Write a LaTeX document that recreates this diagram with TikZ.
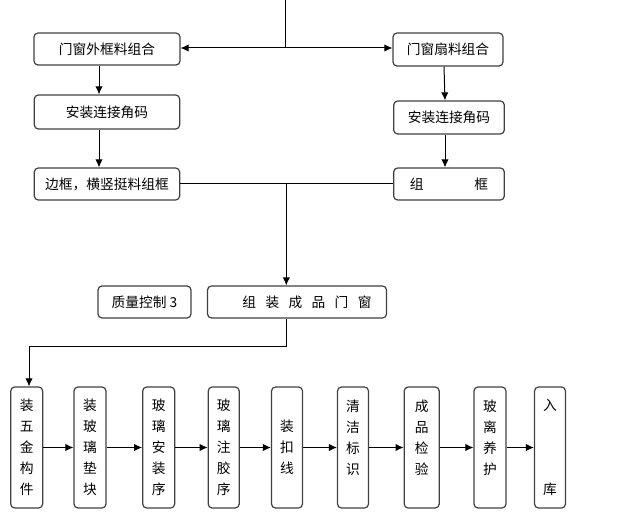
\documentclass[tikz,border=0pt]{standalone}
\usepackage{fontspec}
\setmainfont{Noto Sans CJK SC}
\usetikzlibrary{arrows.meta}

\begin{document}
\begin{tikzpicture}[x=0.75pt,y=-0.75pt,
  box/.style={draw=black!75,line width=0.9pt,rounded corners=3pt,inner sep=0pt,
    font=\fontsize{10.3pt}{15.75pt}\selectfont,align=center},
  col/.style={box,minimum height=90.75pt,minimum width=#1},
  flow/.style={-{Latex[length=6pt,width=5.5pt]},line width=0.75pt}]
\useasboundingbox (0,0) rectangle (628,527);

\node[box,minimum width=109.5pt,minimum height=24pt] (outer) at (107,49) {门窗外框料组合};
\node[box,minimum width=82.5pt,minimum height=24.75pt] (sash) at (448,49.5) {门窗扇料组合};
\node[box,minimum width=109pt,minimum height=25.5pt] (cornerL) at (107,112) {安装连接角码};
\node[box,minimum width=83pt,minimum height=24.75pt] (cornerR) at (449,117.5) {安装连接角码};
\node[box,minimum width=109pt,minimum height=24pt] (frameL) at (107,184) {边框，横竖挺料组框};
\node[box,minimum width=83pt,minimum height=24pt] (frameR) at (449,184) {组\hspace{38pt}框};
\node[box,minimum width=69.75pt,minimum height=24pt] (quality) at (144.5,302) {质量控制 3};
\node[box,minimum width=134.25pt,minimum height=24pt] (assemble) at (297,302)
  {\hspace{15pt}组\hspace{7pt}装\hspace{7pt}成\hspace{7pt}品\hspace{7pt}门\hspace{7pt}窗};

\node[col=24pt] (b1) at (26.7,447.5) {装\\五\\金\\构\\件};
\node[col=24pt] (b2) at (90,447.5) {装\\玻\\璃\\垫\\块};
\node[col=24pt] (b3) at (158.7,447.5) {玻\\璃\\安\\装\\序};
\node[col=23.25pt] (b4) at (223.7,447.5) {玻\\璃\\注\\胶\\序};
\node[col=23.25pt] (b5) at (287,447.5) {装\\扣\\线};
\node[col=23.25pt] (b6) at (353,447.5) {清\\洁\\标\\识\\~};
\node[col=26.25pt] (b7) at (421.7,447.5) {成\\品\\检\\验\\~};
\node[col=24pt] (b8) at (490,447.5) {玻\\离\\养\\护\\~};
\node[col=23.25pt] (b9) at (550,447.5) {入\\~\\~\\~\\库};

\coordinate (top) at (285,0);
\coordinate (split) at (285,48);
\draw[line width=0.75pt] (top) -- (split);
\draw[flow] (split) -- (split -| outer.east);
\draw[flow] (split) -- (split -| sash.west);
\draw[flow] ([xshift=-6pt]outer.south) -- ([xshift=-6pt]cornerL.north);
\draw[flow] ([xshift=-6pt]cornerL.south) -- ([xshift=-6pt]frameL.north);
\draw[flow] ([xshift=-3pt]sash.south) -- ([xshift=-3pt]cornerR.north);
\draw[flow] ([xshift=-3pt]cornerR.south) -- ([xshift=-3pt]frameR.north);
\draw[line width=0.75pt] (frameL.east) -- (frameR.west);
\coordinate (join) at ([xshift=-8pt]assemble.north |- frameL.east);
\draw[flow] (join) -- ([xshift=-8pt]assemble.north);
\coordinate (bend) at (29,346);
\draw[flow] ([xshift=-8pt]assemble.south) |- (bend) -- (bend |- b1.north);

\foreach \a/\b in {b1/b2,b2/b3,b3/b4,b4/b5,b5/b6,b6/b7,b7/b8,b8/b9}
  \draw[flow] (\a) -- (\b);

\end{tikzpicture}
\end{document}
